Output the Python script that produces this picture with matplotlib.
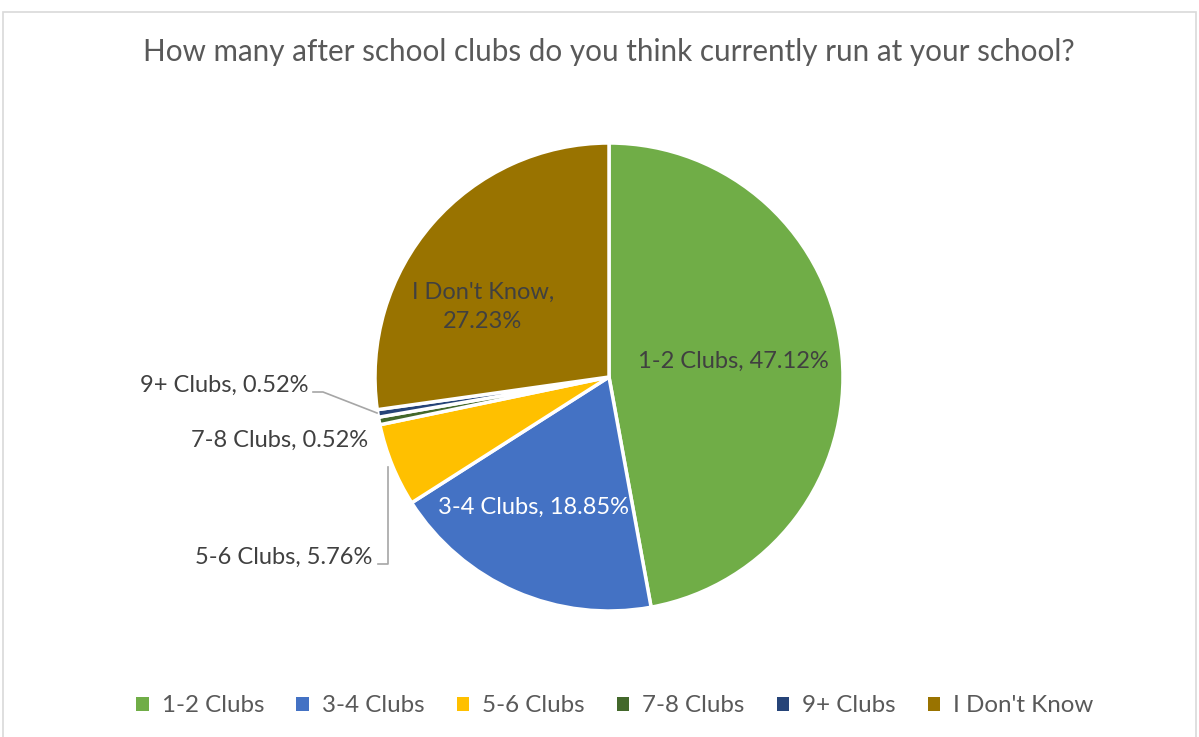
import matplotlib
matplotlib.use("Agg")
import matplotlib.pyplot as plt
from matplotlib.patches import Rectangle

categories = ["1-2 Clubs", "3-4 Clubs", "5-6 Clubs", "7-8 Clubs", "9+ Clubs", "I Don't Know"]
values = [47.12, 18.85, 5.76, 0.52, 0.52, 27.23]
colors = ["#70AD47", "#4472C4", "#FFC000", "#43682B", "#264478", "#997300"]
title = "How many after school clubs do you think currently run at your school?"

W, H = 1199, 737
fig = plt.figure(figsize=(W / 100, H / 100), dpi=100)
plt.rcParams['font.family'] = ['Lato', 'DejaVu Sans']
ax = fig.add_axes([0, 0, 1, 1])
ax.set_xlim(0, W)
ax.set_ylim(0, H)
ax.axis("off")

# chart frame
ax.add_patch(Rectangle((3, -5), W - 6, H - 12 + 5, fill=False, edgecolor="#D9D9D9", lw=1.2))

cx, cy, r = 609, H - 377, 234
wedges, _ = ax.pie(values, colors=colors, startangle=90, counterclock=False,
                   center=(cx, cy), radius=r, frame=True,
                   wedgeprops=dict(edgecolor="white", linewidth=2.5))
ax.set_xlim(0, W)
ax.set_ylim(0, H)
ax.set_aspect("auto")
ax.axis("off")

fs = 17
tc = "#404040"
labels = [f"{c}, {v:.2f}%" for c, v in zip(categories, values)]
ax.text(733, H - 361, labels[0], ha="center", va="center", fontsize=fs, color=tc)
ax.text(533, H - 507, labels[1], ha="center", va="center", fontsize=fs, color="white")
ax.text(372, H - 557, labels[2], ha="right", va="center", fontsize=fs, color=tc)
ax.text(368, H - 440, labels[3], ha="right", va="center", fontsize=fs, color=tc)
ax.text(308, H - 385, labels[4], ha="right", va="center", fontsize=fs, color=tc)
ax.text(483, H - 307, "I Don't Know,\n" + f"{values[5]:.2f}%", ha="center", va="center",
        fontsize=fs, color=tc, linespacing=1.5)

lc = "#A6A6A6"
ax.plot([378, 388, 388], [H - 564, H - 564, H - 467], color=lc, lw=1.2)
ax.plot([313, 323, 377], [H - 392, H - 392, H - 413], color=lc, lw=1.2)

ax.text(609, H - 52, title, ha="center", va="center", fontsize=21.3, color="#595959")

leg = ax.legend(wedges, categories, loc="center", bbox_to_anchor=(615 / W, 31 / H),
                ncol=6, frameon=False, fontsize=17.4, labelcolor="#595959",
                handlelength=0.5, handleheight=0.5, handletextpad=0.55, columnspacing=1.33)
for h in leg.legend_handles:
    h.set_edgecolor("none")

fig.savefig("out.png", dpi=100, facecolor="white")
